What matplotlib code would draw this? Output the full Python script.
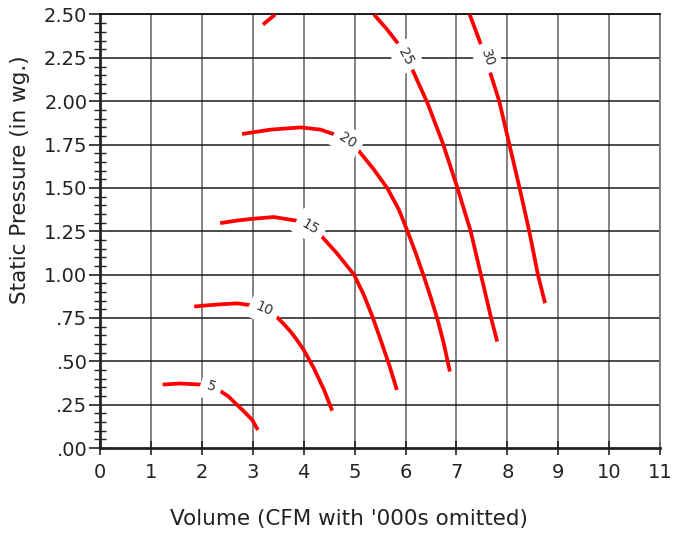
import math

import matplotlib
matplotlib.use("Agg")
import matplotlib.pyplot as plt
from matplotlib.ticker import MultipleLocator


# Fan curves: volume (CFM / 1000) vs static pressure (in wg.), one per level
levels = [5, 10, 15, 20, 25, 30]

curve_x = {
    5: [1.23, 1.57, 1.97, 2.18, 2.36, 2.52, 2.66, 2.82, 2.99, 3.10],
    10: [1.85, 2.15, 2.43, 2.70, 2.95, 3.22, 3.46, 3.60, 3.74, 3.87, 4.00, 4.20, 4.40, 4.56],
    15: [2.36, 2.70, 3.00, 3.41, 3.84, 4.13, 4.33, 4.66, 4.99, 5.18, 5.35, 5.51, 5.68, 5.83],
    20: [2.79, 3.35, 3.94, 4.33, 4.56, 4.86, 5.09, 5.38, 5.64, 5.87, 6.04, 6.20, 6.36,
         6.50, 6.63, 6.75, 6.87],
    25: [5.38, 5.64, 5.84, 6.00, 6.14, 6.43, 6.73, 7.02, 7.28, 7.48, 7.55, 7.68, 7.80],
    30: [7.26, 7.48, 7.60, 7.66, 7.84, 8.04, 8.24, 8.43, 8.60, 8.74],
}
curve_y = {
    5: [0.366, 0.372, 0.366, 0.354, 0.329, 0.298, 0.258, 0.213, 0.162, 0.104],
    10: [0.816, 0.824, 0.830, 0.834, 0.824, 0.800, 0.758, 0.718, 0.672, 0.622, 0.566,
         0.460, 0.335, 0.215],
    15: [1.297, 1.312, 1.322, 1.332, 1.312, 1.276, 1.228, 1.120, 0.999, 0.883, 0.758,
         0.624, 0.479, 0.335],
    20: [1.811, 1.836, 1.849, 1.836, 1.813, 1.772, 1.711, 1.605, 1.499, 1.374, 1.249,
         1.124, 0.989, 0.864, 0.739, 0.604, 0.441],
    25: [2.500, 2.413, 2.337, 2.259, 2.178, 1.990, 1.759, 1.499, 1.249, 0.999, 0.912,
         0.750, 0.614],
    30: [2.500, 2.327, 2.250, 2.167, 2.000, 1.749, 1.499, 1.249, 0.999, 0.835],
}
# index of the point where each level is labelled
label_idx = {5: 3, 10: 5, 15: 5, 20: 5, 25: 3, 30: 2}

# left end of the 25 curve that dips back into range before leaving the top
stub25_x = [3.20, 3.44]
stub25_y = [2.442, 2.50]

x_ticks = list(range(0, 12))
y_ticks = [0.0, 0.25, 0.5, 0.75, 1.0, 1.25, 1.5, 1.75, 2.0, 2.25, 2.5]
y_ticklabels = [".00", ".25", ".50", ".75", "1.00", "1.25", "1.50", "1.75", "2.00", "2.25", "2.50"]


def main() -> None:
    fig = plt.figure(figsize=(6.92, 5.37), dpi=100)
    ax = fig.add_axes([0.1445, 0.1657, 0.8095, 0.8073])

    ax.set_xlim(0, 11)
    ax.set_ylim(0, 2.5)

    # Grid: vertical lines grey, horizontal lines near black
    for xv in x_ticks[1:]:
        ax.axvline(xv, color="#777777", lw=1.3, zorder=1)
    for yv in y_ticks[1:]:
        ax.axhline(yv, color="#1a1a1a", lw=1.1, zorder=1)

    for lev in levels:
        ax.plot(curve_x[lev], curve_y[lev], color="#ff0000", lw=2.7,
                solid_joinstyle="round", solid_capstyle="butt", zorder=3)
    ax.plot(stub25_x, stub25_y, color="#ff0000", lw=2.7, solid_capstyle="butt", zorder=3)

    # Inline labels, rotated along the curve
    fig.canvas.draw()
    for lev in levels:
        i = label_idx[lev]
        xs, ys = curve_x[lev], curve_y[lev]
        p0 = ax.transData.transform((xs[i - 1], ys[i - 1]))
        p1 = ax.transData.transform((xs[i + 1], ys[i + 1]))
        ang = math.degrees(math.atan2(p1[1] - p0[1], p1[0] - p0[0]))
        ax.text(xs[i], ys[i], str(lev), rotation=ang, rotation_mode="anchor",
                ha="center", va="center", fontsize=10, color="#333333", zorder=4,
                bbox=dict(boxstyle="square,pad=0.45", fc="white", ec="none"))

    ax.set_xticks(x_ticks)
    ax.set_xticklabels([str(v) for v in x_ticks])
    ax.set_yticks(y_ticks)
    ax.set_yticklabels(y_ticklabels)
    ax.yaxis.set_minor_locator(MultipleLocator(0.05))

    ax.tick_params(axis="x", which="major", direction="inout", length=10, width=1.2,
                   labelsize=14, pad=6, colors="#222222")
    ax.tick_params(axis="y", which="major", direction="out", length=8, width=1.2,
                   labelsize=14, pad=1, colors="#222222")
    ax.tick_params(axis="y", which="minor", direction="inout", length=8, width=1.0,
                   colors="#222222")

    for side in ["left", "bottom"]:
        ax.spines[side].set_linewidth(2.0)
        ax.spines[side].set_color("#222222")
    ax.spines["top"].set_linewidth(1.3)
    ax.spines["top"].set_color("#111111")
    ax.spines["right"].set_linewidth(1.3)
    ax.spines["right"].set_color("#777777")

    ax.set_xlabel("Volume (CFM with '000s omitted)", fontsize=15.5, color="#222222")
    ax.set_ylabel("Static Pressure (in wg.)", fontsize=15.5, color="#222222")
    ax.xaxis.set_label_coords(0.445, -0.14)
    ax.yaxis.set_label_coords(-0.125, 0.62)

    fig.savefig("out.png", dpi=100)


if __name__ == "__main__":
    main()
